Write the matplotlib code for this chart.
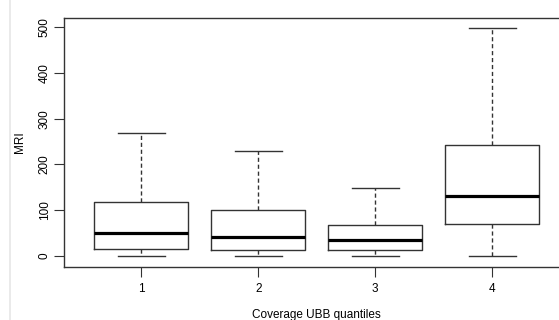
import matplotlib
matplotlib.use("Agg")
import matplotlib.pyplot as plt
from matplotlib.lines import Line2D

plt.rcParams['font.family'] = ['Liberation Sans', 'DejaVu Sans']

# Five-number summaries of MRI per coverage quantile
groups = ["1", "2", "3", "4"]
whisker_low = [0, 0, 0, 0]
q1 = [16, 14, 14, 71]
median = [51, 41, 35, 131]
q3 = [117, 101, 67, 242]
whisker_high = [268, 229, 148, 499]

stats = []
for g, lo, a, m, b, hi in zip(groups, whisker_low, q1, median, q3, whisker_high):
    stats.append(dict(label=g, whislo=lo, q1=a, med=m, q3=b, whishi=hi, fliers=[]))

W, H = 559, 320
fig = plt.figure(figsize=(W / 100, H / 100), dpi=100)
# axes spans x 64..569.5 px, y 18..267 px
ax = fig.add_axes([64 / W, 1 - 267 / H, (569.5 - 64) / W, (267 - 18) / H])

edge = '#333333'
ax.bxp(stats, positions=[1, 2, 3, 4], widths=0.8, showfliers=False,
       boxprops=dict(color=edge, linewidth=1.0),
       medianprops=dict(color='black', linewidth=2.3, solid_capstyle='butt'),
       whiskerprops=dict(color=edge, linewidth=1.0, linestyle=(0, (3, 2))),
       capprops=dict(color=edge, linewidth=1.0),
       capwidths=0.4)

ax.set_xlim(0.34, 4.66)
ax.set_ylim(-24, 520)
ax.set_yticks([0, 100, 200, 300, 400, 500])
ax.set_xticks([1, 2, 3, 4])
ax.set_xticklabels(groups)
for lab in ax.get_yticklabels():
    lab.set_rotation(90)
    lab.set_va('center')
ax.tick_params(axis='both', labelsize=8.5, length=7, width=0.8, color=edge)
ax.tick_params(axis='x', pad=4.5)
ax.tick_params(axis='y', pad=2.5)

for s in ax.spines.values():
    s.set_color(edge)
    s.set_linewidth(1.0)

ax.set_xlabel("Coverage UBB quantiles", fontsize=8.5, labelpad=10)
ax.set_ylabel("MRI", fontsize=8.5, labelpad=9)

# faint page margin line on the left
fig.add_artist(Line2D([10 / W, 10 / W], [0, 1], transform=fig.transFigure,
                      color='#e6e6e6', linewidth=1.2))

fig.savefig("out.png", dpi=100)
